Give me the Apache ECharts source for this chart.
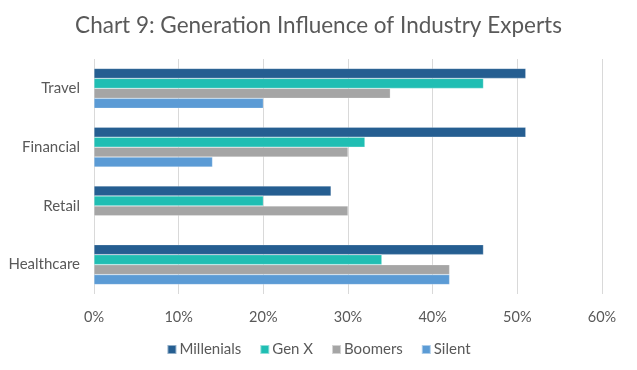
<!DOCTYPE html>
<html><head><meta charset="utf-8">
<script src="https://cdn.jsdelivr.net/npm/echarts@6/dist/echarts.min.js"></script>
<style>html,body{margin:0;padding:0;background:#fff}#c{width:637px;height:370px}</style>
</head><body><div id="c"></div>
<script>
var categories = ['Healthcare', 'Retail', 'Financial', 'Travel'];
var millenials = [46, 28, 51, 51];
var genX = [34, 20, 32, 46];
var boomers = [42, 30, 30, 35];
var silent = [42, null, 14, 20];
var xTicks = [0, 10, 20, 30, 40, 50, 60];

var font = 'Lato';
var chart = echarts.init(document.getElementById('c'));
function s(name, data, color) {
  return {name: name, type: 'bar', data: data, barGap: '0%', barCategoryGap: '32%',
    itemStyle: {color: color, borderColor: 'rgba(255,255,255,0.5)', borderWidth: 0.5}};
}
chart.setOption({
  animation: false,
  title: {text: 'Chart 9: Generation Influence of Industry Experts', left: 'center', top: 9,
    textStyle: {fontFamily: font, fontSize: 22.5, fontWeight: 'normal', color: '#595959'}},
  grid: {left: 94, right: 35, top: 59, bottom: 76},
  legend: {bottom: 8, left: 'center', itemWidth: 9, itemHeight: 9, itemGap: 18, icon: 'rect',
    textStyle: {fontFamily: font, fontSize: 15, color: '#595959', padding: [0,0,0,-2]},
    data: ['Millenials', 'Gen X', 'Boomers', 'Silent']},
  xAxis: {type: 'value', min: xTicks[0], max: xTicks[xTicks.length-1], interval: 10,
    axisLine: {show: false}, axisTick: {show: false},
    splitLine: {lineStyle: {color: '#d9d9d9', width: 1}},
    axisLabel: {formatter: '{value}%', fontFamily: font, fontSize: 14.5, color: '#595959', margin: 16}},
  yAxis: {type: 'category', data: categories,
    axisLine: {show: false}, axisTick: {show: false},
    axisLabel: {fontFamily: font, fontSize: 15, color: '#595959', margin: 14}},
  series: [
    s('Millenials', millenials, '#255E91'),
    s('Gen X', genX, '#20BEB3'),
    s('Boomers', boomers, '#A5A5A5'),
    s('Silent', silent, '#5B9BD5')
  ]
});
</script></body></html>
